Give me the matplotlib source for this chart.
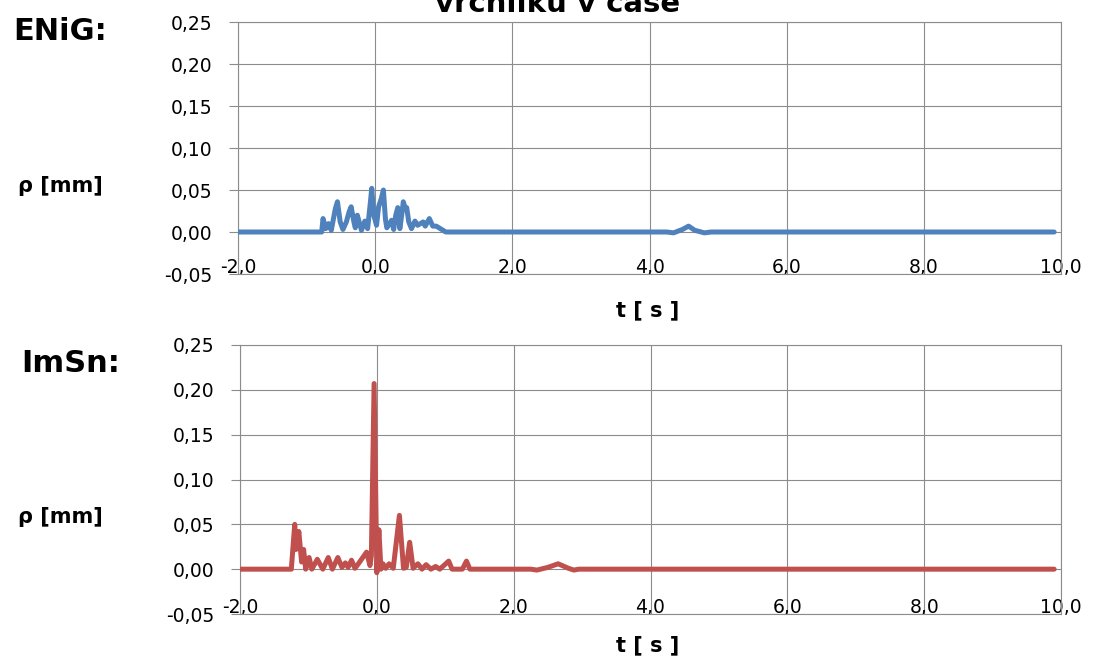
import matplotlib
matplotlib.use("Agg")
import matplotlib.pyplot as plt
from matplotlib.ticker import FuncFormatter, MultipleLocator

plt.rcParams['font.family'] = ['DejaVu Sans']

title_text = "vrchlíku v čase"
panel_labels = ["ENiG:", "ImSn:"]
y_label = "ρ [mm]"
x_label = "t [ s ]"

enig_t = [-2.0, -0.78, -0.76, -0.72, -0.68, -0.64, -0.58, -0.55, -0.51, -0.47, -0.42,
          -0.38, -0.35, -0.31, -0.29, -0.26, -0.22, -0.20, -0.15, -0.11, -0.07, -0.05,
          -0.02, 0.02, 0.05, 0.09, 0.12, 0.15, 0.17, 0.21, 0.24, 0.27, 0.30, 0.33,
          0.36, 0.39, 0.41, 0.44, 0.46, 0.49, 0.53, 0.58, 0.62, 0.66, 0.70, 0.73,
          0.79, 0.84, 0.89, 0.95, 1.03, 4.25, 4.35, 4.48, 4.57, 4.66, 4.80, 4.90, 9.9]
enig_rho = [0.0, 0.0, 0.016, 0.004, 0.010, 0.002, 0.028, 0.036, 0.012, 0.003, 0.012,
            0.024, 0.030, 0.012, 0.005, 0.020, 0.008, 0.002, 0.013, 0.004, 0.035, 0.052,
            0.020, 0.008, 0.030, 0.040, 0.050, 0.015, 0.005, 0.010, 0.014, 0.003, 0.020, 0.029,
            0.004, 0.022, 0.036, 0.028, 0.029, 0.012, 0.004, 0.013, 0.008, 0.010, 0.012, 0.007,
            0.016, 0.007, 0.007, 0.004, 0.0, 0.0, -0.001, 0.003, 0.007, 0.002, -0.001, 0.0, 0.0]

imsn_t = [-2.0, -1.25, -1.20, -1.18, -1.14, -1.10, -1.07, -1.04, -0.99, -0.95, -0.87,
          -0.79, -0.71, -0.65, -0.57, -0.51, -0.46, -0.42, -0.37, -0.32, -0.27, -0.15,
          -0.10, -0.08, -0.04, 0.00, 0.03, 0.06, 0.09, 0.13, 0.18, 0.24, 0.33, 0.39,
          0.43, 0.48, 0.53, 0.60, 0.66, 0.72, 0.79, 0.86, 0.92, 1.05, 1.10, 1.25, 1.31,
          1.36, 2.25, 2.34, 2.50, 2.65, 2.80, 2.88, 2.95, 9.9]
imsn_rho = [0.0, 0.0, 0.050, 0.022, 0.042, 0.008, 0.022, 0.0, 0.013, 0.0, 0.011,
            0.0, 0.013, 0.0, 0.013, 0.002, 0.007, 0.002, 0.010, 0.001, 0.006, 0.019,
            0.004, 0.015, 0.207, -0.004, 0.044, 0.0, 0.006, 0.001, 0.006, 0.001, 0.060, 0.001,
            0.002, 0.030, 0.001, 0.006, 0.0, 0.005, 0.0, 0.003, 0.0, 0.009, 0.0, 0.0, 0.009,
            0.0, 0.0, -0.001, 0.002, 0.006, 0.001, -0.001, 0.0, 0.0]

series = [(enig_t, enig_rho, "#4F81BD"), (imsn_t, imsn_rho, "#C0504D")]

fig = plt.figure(figsize=(10.98, 6.62), dpi=100)
W, H = 1098.0, 662.0
# axes rectangles in pixels: left, right, top, bottom
rects = [(238, 1061, 22, 274), (240, 1061, 345, 614)]
label_pos = [(60, 32), (71, 364)]
ylab_pos = [(60, 186), (60, 517)]
xlab_pos = [(648, 310), (648, 645)]

grid_c = "#8C8C8C"
for i, ((l, r, t, b), (xs, ys, col)) in enumerate(zip(rects, series)):
    ax = fig.add_axes([l / W, 1 - b / H, (r - l) / W, (b - t) / H])
    ax.plot(xs, ys, color=col, lw=3.6, solid_joinstyle='round', solid_capstyle='round', zorder=3)
    ax.set_xlim(-2, 10)
    ax.set_ylim(-0.05, 0.25)
    ax.xaxis.set_major_locator(MultipleLocator(2))
    ax.yaxis.set_major_locator(MultipleLocator(0.05))
    ax.xaxis.set_major_formatter(FuncFormatter(lambda v, p: f"{v:.1f}".replace('.', ',').replace('-0,0', '0,0')))
    ax.yaxis.set_major_formatter(FuncFormatter(lambda v, p: f"{v:.2f}".replace('.', ',').replace('-0,00', '0,00')))
    ax.grid(True, color=grid_c, lw=0.8)
    ax.set_axisbelow(True)
    for s in ax.spines.values():
        s.set_color(grid_c)
        s.set_linewidth(0.8)
    ax.tick_params(axis='y', length=6.5, width=0.8, color=grid_c, pad=12, labelsize=13.5)
    ax.tick_params(axis='x', length=0, pad=-1, labelsize=13.5)
    for lab in ax.get_xticklabels():
        lab.set_va('baseline')
    fig.text(label_pos[i][0] / W, 1 - label_pos[i][1] / H, panel_labels[i],
             fontsize=22, fontweight='bold', ha='center', va='center')
    fig.text(ylab_pos[i][0] / W, 1 - ylab_pos[i][1] / H, y_label,
             fontsize=15, fontweight='bold', ha='center', va='center')
    fig.text(xlab_pos[i][0] / W, 1 - xlab_pos[i][1] / H, x_label,
             fontsize=15, fontweight='bold', ha='center', va='center')

fig.text(558 / W, 1 - 12 / H, title_text, fontsize=21, fontweight='bold',
         ha='center', va='baseline')

fig.savefig("out.png", dpi=100)
